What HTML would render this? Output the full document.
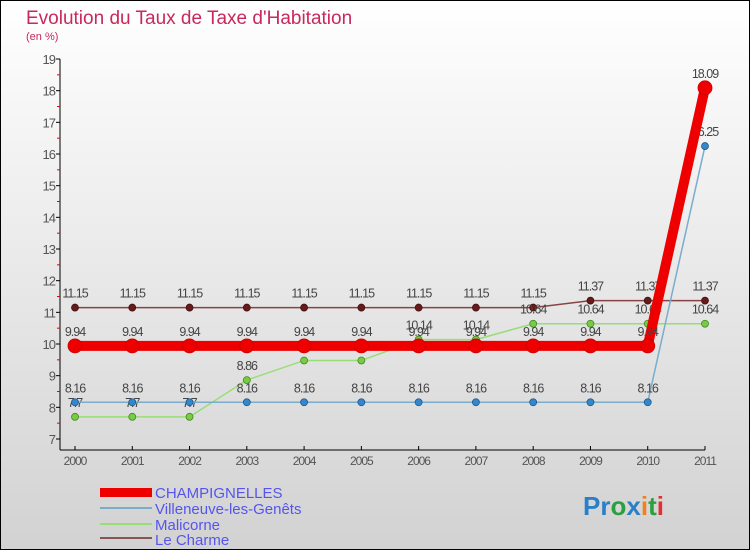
<!DOCTYPE html>
<html><head><meta charset="utf-8"><style>
body{margin:0}
svg{display:block;font-family:"Liberation Sans",sans-serif}
</style></head><body>
<svg id="c" width="750" height="550" xmlns="http://www.w3.org/2000/svg">
<defs><linearGradient id="bg" x1="0" y1="0" x2="0" y2="1"><stop offset="0" stop-color="#ffffff"/><stop offset="1" stop-color="#d2d2d2"/></linearGradient></defs>
<rect x="0.5" y="0.5" width="749" height="549" fill="url(#bg)" stroke="#000"/>
<text x="26" y="24" font-size="19" fill="#c8285a">Evolution du Taux de Taxe d'Habitation</text>
<text x="26" y="40" font-size="11" fill="#c8285a">(en %)</text>
<g id="axes"></g><g id="marks"></g>
<g>
<rect x="100" y="488" width="52" height="9" fill="#e00"/>
<text x="155" y="498" font-size="15" fill="#5555ee">CHAMPIGNELLES</text>
<line x1="100" y1="508" x2="152" y2="508" stroke="#7aaccc" stroke-width="2"/>
<text x="155" y="514" font-size="15" fill="#5555ee">Villeneuve-les-Genêts</text>
<line x1="100" y1="524" x2="152" y2="524" stroke="#99dd77" stroke-width="2"/>
<text x="155" y="530" font-size="15" fill="#5555ee">Malicorne</text>
<line x1="100" y1="538" x2="152" y2="538" stroke="#885555" stroke-width="2"/>
<text x="155" y="545" font-size="15" fill="#5555ee">Le Charme</text>
</g>
<text x="583" y="515" font-size="26" font-weight="bold"><tspan fill="#2a80c8">Pr</tspan><tspan fill="#2aa040">o</tspan><tspan fill="#2a80c8">x</tspan><tspan fill="#f08020">i</tspan><tspan fill="#2aa040">t</tspan><tspan fill="#e03030">i</tspan></text>
</svg>
<script>
const years=[2000,2001,2002,2003,2004,2005,2006,2007,2008,2009,2010,2011];
const champignelles=[9.94,9.94,9.94,9.94,9.94,9.94,9.94,9.94,9.94,9.94,9.94,18.09];
const villeneuve=[8.16,8.16,8.16,8.16,8.16,8.16,8.16,8.16,8.16,8.16,8.16,16.25];
const malicorne=[7.7,7.7,7.7,8.86,9.48,9.48,10.14,10.14,10.64,10.64,10.64,10.64];
const leCharme=[11.15,11.15,11.15,11.15,11.15,11.15,11.15,11.15,11.15,11.37,11.37,11.37];
const yTicks=[7,8,9,10,11,12,13,14,15,16,17,18,19];
const NS="http://www.w3.org/2000/svg";
const X=i=>75+i*(630/(years.length-1));
const Y=v=>439-(v-7)*(380/12);
function mk(tag,attrs,parent,txt){const e=document.createElementNS(NS,tag);for(const k in attrs)e.setAttribute(k,attrs[k]);if(txt!==undefined)e.textContent=txt;parent.appendChild(e);return e;}
const ax=document.getElementById('axes'),mg=document.getElementById('marks');
let a=mk('line',{x1:60,y1:59,x2:60,y2:450,stroke:'#000'},ax);


a=mk('line',{x1:60,y1:450,x2:705,y2:450,stroke:'#000'},ax);


yTicks.forEach(t=>{
 mk('line',{x1:56,y1:Y(t),x2:60,y2:Y(t),stroke:'#000'},ax);
 if(t<19)mk('line',{x1:57,y1:Y(t+0.5),x2:60,y2:Y(t+0.5),stroke:'#e00'},ax);
 const l=mk('text',{x:55,y:Y(t)+5,'font-size':13,fill:'#555','text-anchor':'end','letter-spacing':'-1'},ax,t);
 
 
});
years.forEach((y,i)=>{
 mk('line',{x1:X(i),y1:446,x2:X(i),y2:450,stroke:'#000'},ax);
 const l=mk('text',{x:X(i),y:465,'font-size':12,fill:'#555','text-anchor':'middle','letter-spacing':'-1'},ax,y);
 
 
});
function series(vals,name,color,dot,w,r,stroke){
 const g=mk('g',{},mg);
 
 
 mk('polyline',{points:vals.map((v,i)=>X(i)+','+Y(v)).join(' '),fill:'none',stroke:color,'stroke-width':w},g);
 vals.forEach((v,i)=>{
  const c=mk('circle',{cx:X(i),cy:Y(v),r:r,fill:dot,stroke:stroke,'stroke-width':0.8},g);
  
  
  const t=mk('text',{x:X(i),y:Y(v)-10,'font-size':12.5,fill:'#444','text-anchor':'middle','letter-spacing':'-1'},g,v);
  
  
 });
}
series(leCharme,'le-charme','#884444','#661a1a',1.5,3.5,'#441111');
series(malicorne,'malicorne','#99dd77','#77cc44',1.5,3.5,'#448822');
series(villeneuve,'villeneuve','#7aaccc','#3388cc',1.5,3.5,'#225588');
series(champignelles,'champignelles','#ee0000','#ee0000',10,7,'#cc0000');
</script>
</body></html>
